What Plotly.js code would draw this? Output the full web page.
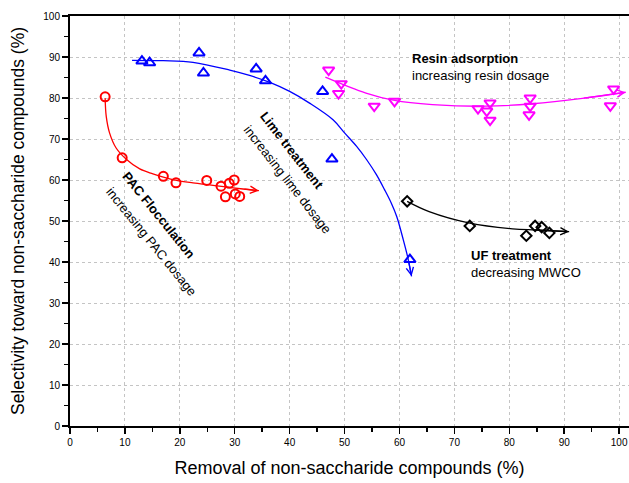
<!DOCTYPE html>
<html>
<head>
<meta charset="utf-8">
<script src="https://cdn.plot.ly/plotly-3.0.1.min.js"></script>
<style>html,body{margin:0;padding:0;background:#fff;}#chart{width:629px;height:483px;}</style>
</head>
<body>
<div id="chart"></div>
<script>
// PAC flocculation (red circles)
const pacX = [6.4, 9.5, 17.0, 19.3, 24.9, 27.5, 29.0, 29.9, 28.3, 30.1, 30.9];
const pacY = [80.3, 65.4, 60.9, 59.3, 59.9, 58.5, 59.2, 60.0, 55.9, 56.6, 56.0];
const pacCurveX = [6.4, 6.6, 7.2, 8.4, 10.3, 12.7, 15.1, 17.0, 19.4, 22.4, 25.4, 28.4, 31.5, 34.4];
const pacCurveY = [80.0, 75.5, 71.5, 67.8, 65.0, 62.7, 61.5, 60.7, 59.9, 59.3, 58.8, 58.3, 57.8, 57.4];

// Lime treatment (blue up-triangles)
const limeX = [13.1, 14.5, 23.5, 24.3, 33.9, 35.6, 46.0, 47.7, 61.9];
const limeY = [89.0, 88.6, 91.0, 86.1, 87.1, 84.2, 81.6, 65.1, 40.6];
const limeCurveX = [11.3, 17.0, 22.4, 29.1, 32.7, 36.4, 40.0, 43.7, 47.9, 50.0, 52.2, 54.0, 55.8, 57.3, 58.5, 59.5, 60.7, 61.6, 62.2];
const limeCurveY = [89.2, 89.1, 88.7, 86.8, 85.5, 83.8, 81.6, 78.7, 74.7, 71.5, 68.2, 65.0, 61.3, 57.6, 54.4, 51.1, 45.4, 40.6, 36.5];

// Resin adsorption (magenta down-triangles)
const resinX = [47.1, 49.4, 48.9, 55.4, 59.1, 74.3, 76.5, 75.9, 76.5, 83.8, 83.8, 83.6, 99.0, 98.4];
const resinY = [86.8, 83.5, 81.1, 78.0, 79.2, 77.4, 78.8, 76.8, 74.6, 80.0, 78.0, 75.9, 82.2, 78.1];
const resinCurveX = [46.5, 53.9, 59.1, 66.0, 75.7, 84.2, 93.3, 101.2];
const resinCurveY = [85.1, 81.2, 79.4, 78.4, 78.0, 78.6, 79.9, 81.4];

// UF treatment (black diamonds)
const ufX = [61.4, 72.8, 83.1, 84.7, 85.9, 87.3];
const ufY = [54.8, 48.8, 46.4, 48.8, 48.5, 47.1];
const ufCurveX = [61.4, 65.4, 72.8, 80.6, 84.8, 90.9];
const ufCurveY = [54.8, 52.3, 49.5, 48.1, 47.8, 47.4];

const xTickVals = [0, 10, 20, 30, 40, 50, 60, 70, 80, 90, 100];
const yTickVals = [0, 10, 20, 30, 40, 50, 60, 70, 80, 90, 100];

const FONT = 'Liberation Sans, Arial, Helvetica, sans-serif';

function markers(x, y, symbol, color, size) {
  return {x: x, y: y, type: 'scatter', mode: 'markers', hoverinfo: 'skip',
    marker: {symbol: symbol, size: size, color: color, line: {color: color, width: 2}}};
}
function curve(x, y, color) {
  return {x: x, y: y, type: 'scatter', mode: 'lines', hoverinfo: 'skip',
    line: {color: color, width: 1.3, shape: 'spline', smoothing: 1}};
}
function arrow(cx, cy, color) {
  const n = cx.length;
  return {x: cx[n-1], y: cy[n-1], ax: cx[n-2], ay: cy[n-2], xref: 'x', yref: 'y', axref: 'x', ayref: 'y',
    text: '', showarrow: true, arrowhead: 5, arrowsize: 1.1, arrowwidth: 1.3, arrowcolor: color};
}

const data = [
  curve(pacCurveX, pacCurveY, '#ff0000'),
  curve(limeCurveX, limeCurveY, '#0000ff'),
  curve(resinCurveX, resinCurveY, '#ff00ff'),
  curve(ufCurveX, ufCurveY, '#000000'),
  markers(pacX, pacY, 'circle-open', '#ff0000', 9),
  markers(limeX, limeY, 'triangle-up-open', '#0000ff', 10),
  markers(resinX, resinY, 'triangle-down-open', '#ff00ff', 10),
  markers(ufX, ufY, 'diamond-open', '#000000', 8)
];

const txt = {family: FONT, size: 13, color: '#000'};
const annotations = [
  arrow(pacCurveX, pacCurveY, '#ff0000'),
  arrow(limeCurveX, limeCurveY, '#0000ff'),
  arrow(resinCurveX, resinCurveY, '#ff00ff'),
  arrow(ufCurveX, ufCurveY, '#000000'),
  {x: 61.9, y: 87.5, xref: 'x', yref: 'y', xanchor: 'left', yanchor: 'middle', align: 'left', showarrow: false,
   text: '<b>Resin adsorption</b><br>increasing resin dosage', font: txt},
  {x: 72.7, y: 39.6, xref: 'x', yref: 'y', xanchor: 'left', yanchor: 'middle', align: 'left', showarrow: false,
   text: '<b>UF treatment</b><br>decreasing MWCO', font: txt},
  {x: 40.4, y: 67.2, xref: 'x', yref: 'y', xanchor: 'center', yanchor: 'middle', showarrow: false, textangle: 52,
   text: '<b>Lime treatment</b>', font: txt},
  {x: 39.6, y: 60.1, xref: 'x', yref: 'y', xanchor: 'center', yanchor: 'middle', showarrow: false, textangle: 52,
   text: 'increasing lime dosage', font: txt},
  {x: 16.2, y: 51.3, xref: 'x', yref: 'y', xanchor: 'center', yanchor: 'middle', showarrow: false, textangle: 51,
   text: '<b>PAC Flocculation</b>', font: txt},
  {x: 14.8, y: 45.0, xref: 'x', yref: 'y', xanchor: 'center', yanchor: 'middle', showarrow: false, textangle: 51,
   text: 'increasing PAC dosage', font: txt}
];

const axisCommon = {
  showline: true, linecolor: '#000', linewidth: 2,
  ticks: 'outside', ticklen: 6, tickwidth: 1.5, tickcolor: '#000',
  showgrid: true, gridcolor: '#c4c4c4', griddash: 'dot', gridwidth: 1,
  zeroline: false, automargin: false,
  tickfont: {family: FONT, size: 10, color: '#000'},
  minor: {ticks: 'outside', ticklen: 4, tickwidth: 1.5, tickcolor: '#000', dtick: 5, showgrid: false},
  tickmode: 'array'
};

const layout = {
  width: 629, height: 483,
  margin: {l: 70, r: 0, t: 16, b: 57, pad: 0},
  paper_bgcolor: '#fff', plot_bgcolor: '#fff',
  showlegend: false,
  xaxis: Object.assign({}, axisCommon, {
    range: [0, 101.8], tickvals: xTickVals, ticktext: xTickVals.map(String), mirror: true,
    title: {text: 'Removal of non-saccharide compounds (%)', font: {family: FONT, size: 18, color: '#000'}, standoff: 14}
  }),
  yaxis: Object.assign({}, axisCommon, {
    range: [0, 100], tickvals: yTickVals, ticktext: yTickVals.map(String),
    title: {text: 'Selectivity toward non-saccharide compounds (%)', font: {family: FONT, size: 17.5, color: '#000'}, standoff: 14}
  }),
  annotations: annotations
};

Plotly.newPlot('chart', data, layout, {displayModeBar: false, staticPlot: true});
</script>
</body>
</html>
